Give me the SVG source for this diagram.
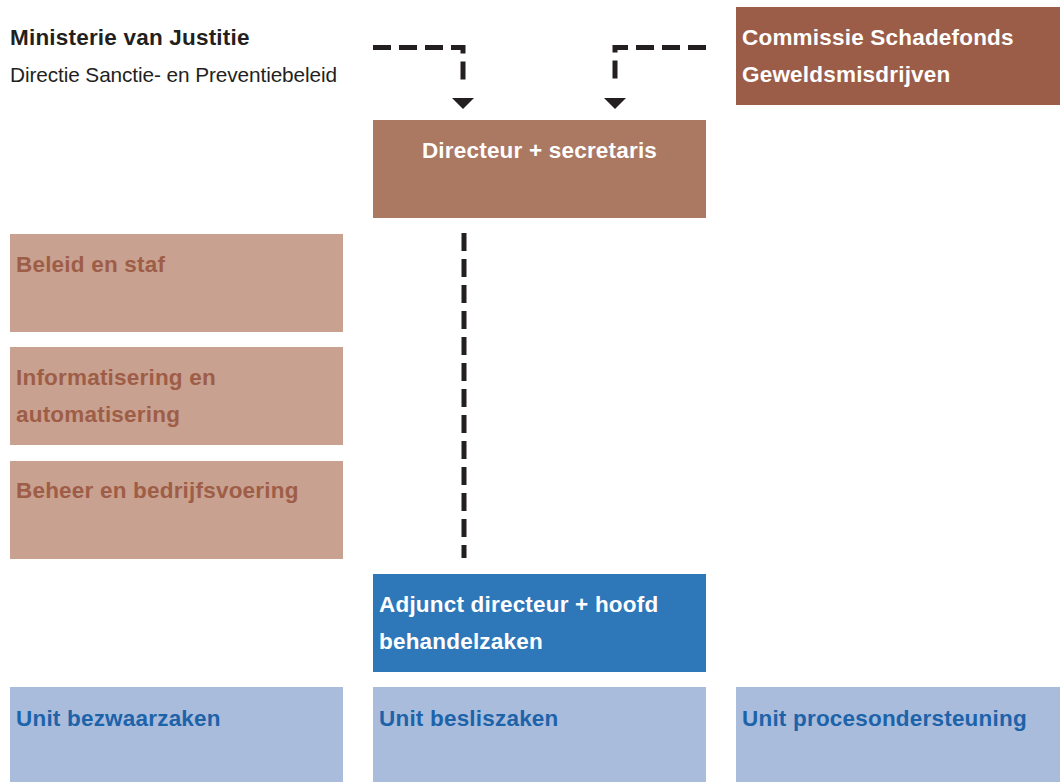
<svg xmlns="http://www.w3.org/2000/svg" width="1060" height="782" viewBox="0 0 1060 782">
<style>
text{font-family:"Liberation Sans",Arial,sans-serif;font-size:22.5px;font-weight:bold;letter-spacing:0.2px}
.w{fill:#fff}
.staff rect{fill:#c9a190}
.staff text{fill:#9e5d47}
.unit rect{fill:#aabcdc}
.unit text{fill:#1d63a9}
.conn{fill:none;stroke:#231f20;stroke-width:5;stroke-dasharray:18 8}
.arr{fill:#231f20}
</style>
<rect width="1060" height="782" fill="#fff"/>
<g id="header">
<text x="10" y="45" fill="#231f20">Ministerie van Justitie</text>
<text x="10" y="82" fill="#231f20" style="font-weight:normal;letter-spacing:-0.1px;font-size:20.8px">Directie Sanctie- en Preventiebeleid</text>
</g>
<g id="connectors">
<path class="conn" d="M373 47.5H463V84"/>
<path class="conn" d="M706 47.5H615V84"/>
<polygon class="arr" points="452,98 474,98 463,109"/>
<polygon class="arr" points="604,98 626,98 615,109"/>
<path class="conn" d="M464 233V558"/>
</g>
<g id="commissie">
<rect x="736" y="7" width="324" height="98" fill="#9b5c48"/>
<text class="w" x="742" y="45">Commissie Schadefonds</text>
<text class="w" x="742" y="82">Geweldsmisdrijven</text>
</g>
<g id="directeur">
<rect x="373" y="120" width="333" height="98" fill="#ab7862"/>
<text class="w" x="539.5" y="158" text-anchor="middle">Directeur + secretaris</text>
</g>
<g id="beleid" class="staff">
<rect x="10" y="234" width="333" height="98"/>
<text x="16" y="272">Beleid en staf</text>
</g>
<g id="informatisering" class="staff">
<rect x="10" y="347" width="333" height="98"/>
<text x="16" y="385">Informatisering en</text>
<text x="16" y="422">automatisering</text>
</g>
<g id="beheer" class="staff">
<rect x="10" y="461" width="333" height="98"/>
<text x="16" y="498">Beheer en bedrijfsvoering</text>
</g>
<g id="adjunct">
<rect x="373" y="574" width="333" height="98" fill="#2e77b9"/>
<text class="w" x="379" y="612">Adjunct directeur + hoofd</text>
<text class="w" x="379" y="649">behandelzaken</text>
</g>
<g id="unit-bezwaar" class="unit">
<rect x="10" y="687" width="333" height="95"/>
<text x="16" y="726">Unit bezwaarzaken</text>
</g>
<g id="unit-beslis" class="unit">
<rect x="373" y="687" width="333" height="95"/>
<text x="379" y="726">Unit besliszaken</text>
</g>
<g id="unit-proces" class="unit">
<rect x="736" y="687" width="324" height="95"/>
<text x="742" y="726">Unit procesondersteuning</text>
</g>
</svg>
